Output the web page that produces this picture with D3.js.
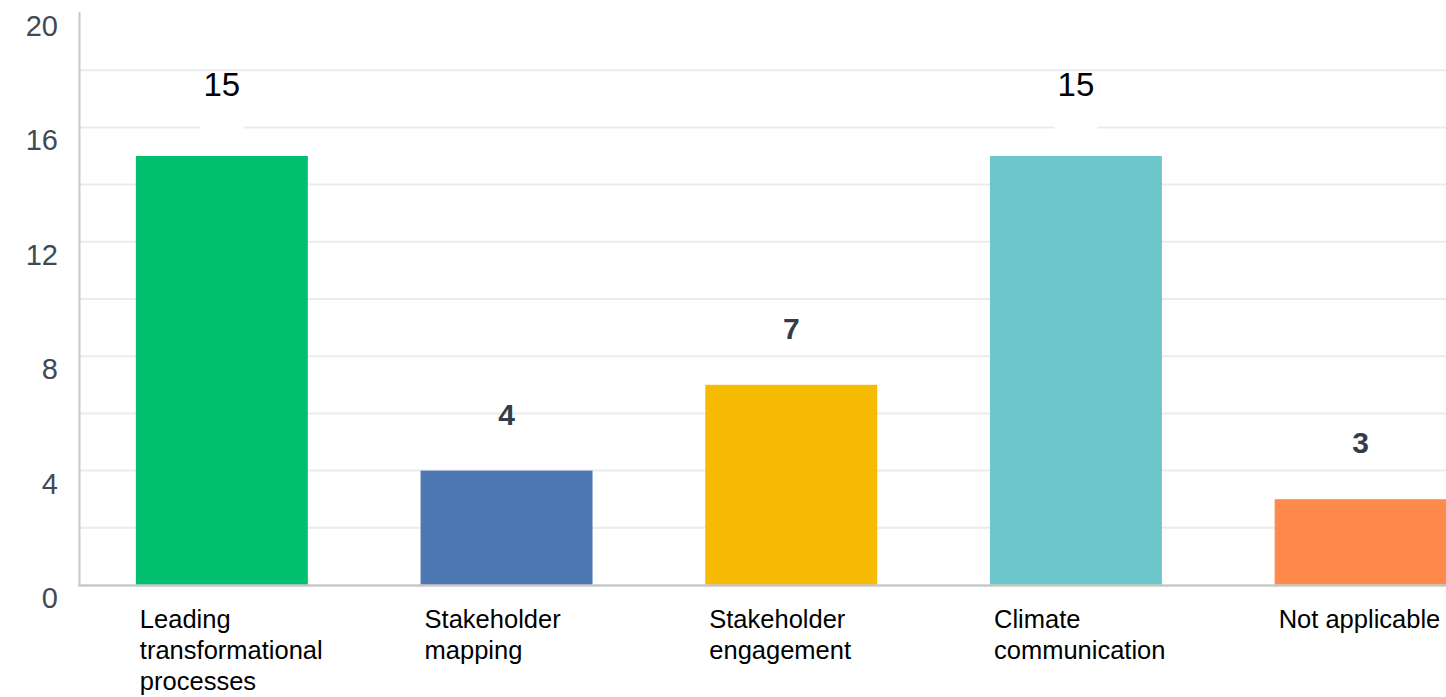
<!DOCTYPE html>
<html>
<head>
<meta charset="utf-8">
<script src="https://cdn.jsdelivr.net/npm/d3@7/dist/d3.min.js"></script>
<style>
  html, body { margin: 0; padding: 0; background: #fff; overflow: hidden; }
  svg { display: block; }
</style>
</head>
<body>
<svg id="chart" width="1446" height="697"></svg>
<script>
// Chart data
const categories = [
  ["Leading", "transformational", "processes"],
  ["Stakeholder", "mapping"],
  ["Stakeholder", "engagement"],
  ["Climate", "communication"],
  ["Not applicable"]
];
const values = [15, 4, 7, 15, 3];
const barColors = ["#00bf6f", "#4e78b4", "#f7bb04", "#6bc7cb", "#ff8a4c"];
const yTickLabels = [0, 4, 8, 12, 16, 20];
const gridValues = [2, 4, 6, 8, 10, 12, 14, 16, 18];

const svg = d3.select("#chart");
const W = 1446;
const axisX = 79.5, baseY = 585, topY = 13;

const x = d3.scaleBand()
  .domain(d3.range(values.length))
  .range([axisX, 1503])
  .paddingInner(0.396)
  .paddingOuter(0.198);

const y = d3.scaleLinear().domain([0, 20]).range([baseY, topY]);

// horizontal gridlines
svg.append("g").selectAll("line")
  .data(gridValues)
  .join("line")
  .attr("x1", axisX).attr("x2", W)
  .attr("y1", d => y(d)).attr("y2", d => y(d))
  .attr("stroke", "#ebebeb").attr("stroke-width", 2);

// y tick labels sit a little below their tick values
svg.append("g").selectAll("text")
  .data(yTickLabels)
  .join("text")
  .attr("x", 58)
  .attr("y", d => y(d) + 13)
  .attr("text-anchor", "end")
  .attr("dominant-baseline", "central")
  .attr("font-family", "Liberation Sans, Arial, sans-serif")
  .attr("font-size", 29)
  .attr("fill", "#3f4957")
  .text(d => d);

// bars
svg.append("g").selectAll("rect")
  .data(values)
  .join("rect")
  .attr("x", (d, i) => x(i))
  .attr("y", d => y(d))
  .attr("width", x.bandwidth())
  .attr("height", d => baseY - y(d))
  .attr("fill", (d, i) => barColors[i]);

// axis lines
svg.append("line")
  .attr("x1", axisX).attr("x2", axisX)
  .attr("y1", 12).attr("y2", baseY + 1)
  .attr("stroke", "#c8c8c8").attr("stroke-width", 2);
svg.append("line")
  .attr("x1", axisX - 1).attr("x2", W)
  .attr("y1", baseY + 0.5).attr("y2", baseY + 0.5)
  .attr("stroke", "#c8c8c8").attr("stroke-width", 2.5);

// value labels
const labels = svg.append("g");
values.forEach((v, i) => {
  const cx = x(i) + x.bandwidth() / 2;
  if (v >= 10) {
    // large values get a white plate that breaks the gridline beneath
    labels.append("rect")
      .attr("x", cx - 21.5).attr("y", y(v) - 48)
      .attr("width", 43).attr("height", 40)
      .attr("fill", "#fff");
    labels.append("text")
      .attr("x", cx).attr("y", y(v) - 60)
      .attr("text-anchor", "middle")
      .attr("font-family", "Liberation Sans, Arial, sans-serif")
      .attr("font-size", 33)
      .attr("fill", "#000")
      .text(v);
  } else {
    labels.append("text")
      .attr("x", cx).attr("y", y(v) - 46)
      .attr("text-anchor", "middle")
      .attr("font-family", "Liberation Sans, Arial, sans-serif")
      .attr("font-weight", "bold")
      .attr("font-size", 30)
      .attr("fill", "#333c49")
      .text(v);
  }
});

// category labels, left aligned under each bar
const cat = svg.append("g");
categories.forEach((lines, i) => {
  const t = cat.append("text")
    .attr("x", x(i) + 4)
    .attr("y", 628)
    .attr("font-family", "Liberation Sans, Arial, sans-serif")
    .attr("font-size", 25.5)
    .attr("fill", "#000");
  lines.forEach((ln, k) => {
    t.append("tspan").attr("x", x(i) + 4).attr("dy", k === 0 ? 0 : 31).text(ln);
  });
});
</script>
</body>
</html>
